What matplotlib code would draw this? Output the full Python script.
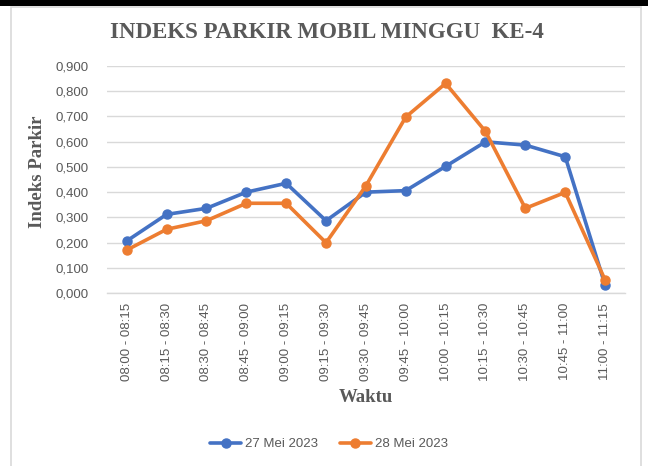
import matplotlib
matplotlib.use("Agg")
import matplotlib.pyplot as plt
from matplotlib.patches import Rectangle
from matplotlib.ticker import FuncFormatter, MultipleLocator

categories = ["08:00 - 08:15", "08:15 - 08:30", "08:30 - 08:45", "08:45 - 09:00",
              "09:00 - 09:15", "09:15 - 09:30", "09:30 - 09:45", "09:45 - 10:00",
              "10:00 - 10:15", "10:15 - 10:30", "10:30 - 10:45", "10:45 - 11:00",
              "11:00 - 11:15"]
mei27 = [0.207, 0.312, 0.336, 0.400, 0.435, 0.287, 0.400, 0.406, 0.502, 0.599, 0.586, 0.540, 0.033]
mei28 = [0.171, 0.253, 0.287, 0.356, 0.356, 0.200, 0.425, 0.697, 0.830, 0.640, 0.336, 0.399, 0.053]
series_names = ["27 Mei 2023", "28 Mei 2023"]
title = "INDEKS PARKIR MOBIL MINGGU  KE-4"

W, H = 648, 466
fig = plt.figure(figsize=(W / 100, H / 100), dpi=100)
fig.patch.set_facecolor("white")

# black strip at top and light frame
fig.patches.append(Rectangle((0, 1 - 6 / H), 1, 6 / H, transform=fig.transFigure,
                             facecolor="black", edgecolor="none", zorder=0))
fig.patches.append(Rectangle((11 / W, -0.05), (641 - 11) / W, 1 - 7 / H + 0.05,
                             transform=fig.transFigure, facecolor="none",
                             edgecolor="#D9D9D9", linewidth=1.2, zorder=0))

left, right = 106.8 / W, 625 / W
bottom, top = 1 - 293.3 / H, 1 - 65.7 / H
ax = fig.add_axes([left, bottom, right - left, top - bottom])

x = list(range(len(categories)))
blue, orange = "#4472C4", "#ED7D31"
ax.plot(x, mei27, color=blue, lw=2.6, marker="o", ms=6.5, label=series_names[0],
        solid_capstyle="round", zorder=3)
ax.plot(x, mei28, color=orange, lw=2.6, marker="o", ms=6.5, label=series_names[1],
        solid_capstyle="round", zorder=4)

ax.set_xlim(-0.5, len(categories) - 0.5)
ax.set_ylim(0, 0.9)
ax.yaxis.set_major_locator(MultipleLocator(0.1))
ax.yaxis.set_major_formatter(FuncFormatter(lambda v, p: f"{v:.3f}".replace(".", ",")))
ax.grid(axis="y", color="#D9D9D9", lw=1.0, zorder=0)
for s in ["top", "right", "left"]:
    ax.spines[s].set_visible(False)
ax.spines["bottom"].set_color("#D9D9D9")
ax.spines["bottom"].set_linewidth(1.0)
ax.set_xticks(x)
ax.set_xticklabels(categories, rotation=90, fontsize=9.5, color="#595959",
                   family="Liberation Sans")
ax.tick_params(axis="x", length=0, pad=7)
ax.tick_params(axis="y", length=0, pad=13, labelsize=9.5, labelcolor="#595959")
for lab in ax.get_yticklabels():
    lab.set_family("Liberation Sans")

fig.text(327 / W, 1 - 32 / H, title, ha="center", va="center", fontsize=16.5,
         fontweight="bold", family="Liberation Serif", color="#595959")
fig.text(38 / W, 1 - 171.5 / H, "Indeks Parkir", ha="center", va="center",
         rotation=90, fontsize=13.5, fontweight="bold", family="Liberation Serif",
         color="#595959")
fig.text(366 / W, 1 - 398 / H, "Waktu", ha="center", va="center", fontsize=13.5,
         fontweight="bold", family="Liberation Serif", color="#595959")

leg = fig.legend(loc="center", bbox_to_anchor=(329 / W, 1 - 444 / H), ncol=2,
                 frameon=False, prop={"family": "Liberation Sans", "size": 9.5},
                 handlelength=2.4, handletextpad=0.3, columnspacing=1.6)
for t in leg.get_texts():
    t.set_color("#595959")

fig.savefig("out.png", dpi=100, facecolor="white")
